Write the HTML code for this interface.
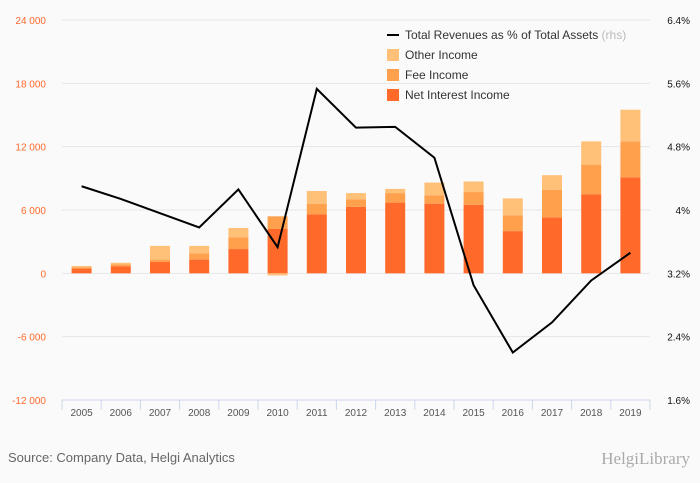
<!DOCTYPE html>
<html><head><meta charset="utf-8"><style>
body{margin:0;background:#fafafa;}
svg{display:block;font-family:"Liberation Sans",sans-serif;}
</style></head><body>
<svg id="c" width="700" height="483"></svg>
<script>
const years=["2005","2006","2007","2008","2009","2010","2011","2012","2013","2014","2015","2016","2017","2018","2019"];
const netInterest=[450,650,1100,1300,2300,4200,5600,6300,6700,6600,6500,4000,5300,7500,9100];
const feeIncome=[100,200,200,600,1100,1200,1000,700,900,800,1200,1500,2600,2800,3400];
const otherIncome=[150,150,1300,700,900,-200,1200,600,400,1200,1000,1600,1400,2200,3000];
const ratio=[4.30,4.14,3.96,3.78,4.26,3.53,5.53,5.04,5.05,4.66,3.05,2.20,2.58,3.11,3.46];
const leftTicks=[24000,18000,12000,6000,0,-6000,-12000];
const rightTicks=[6.4,5.6,4.8,4.0,3.2,2.4,1.6];
const NS="http://www.w3.org/2000/svg",svg=document.getElementById('c');
const X0=62,X1=650,YT=20,YB=400,bw=(X1-X0)/years.length;
const yL=v=>YT+(24000-v)/36000*(YB-YT);
const yR=v=>YT+(6.4-v)/4.8*(YB-YT);
const xC=i=>X0+bw*(i+0.5);
function el(t,a,txt){const e=document.createElementNS(NS,t);for(const k in a)e.setAttribute(k,a[k]);if(txt!=null)e.textContent=txt;svg.appendChild(e);return e;}
const fmt=v=>{const s=Math.abs(v).toString().replace(/\B(?=(\d{3})+(?!\d))/g,' ');return (v<0?'-':'')+s;};
leftTicks.forEach((v,i)=>{
  let g=el('line',{x1:X0,x2:X1,y1:yL(v),y2:yL(v),stroke:'#e6e6e6'});
  
  
  let t=el('text',{x:46,y:yL(v)+4,'text-anchor':'end','font-size':10,fill:'#ff6a2b'},fmt(v));
  
  
});
rightTicks.forEach(v=>{
  let t=el('text',{x:690,y:yR(v)+4,'text-anchor':'end','font-size':10,fill:'#111'},(Math.round(v*10)/10)+'%');
  
  
});
let ax=el('line',{x1:X0,x2:X1,y1:YB,y2:YB,stroke:'#ccd6eb'});


years.forEach((y,i)=>{
  let tk=el('line',{x1:X0+bw*i,x2:X0+bw*i,y1:YB,y2:YB+10,stroke:'#ccd6eb'});
  
  
  let t=el('text',{x:xC(i),y:YB+16,'text-anchor':'middle','font-size':10,fill:'#555'},y);
  
  
});
let tk=el('line',{x1:X1,x2:X1,y1:YB,y2:YB+10,stroke:'#ccd6eb'});


const cols=['#ff6a2b','#ffa04d','#ffc078'];
years.forEach((y,i)=>{
  let pos=0,neg=0;
  [netInterest[i],feeIncome[i],otherIncome[i]].forEach((v,k)=>{
    let a,b;
    if(v>=0){a=pos;b=pos+v;pos=b;}else{a=neg;b=neg+v;neg=b;}
    const y1=yL(Math.max(a,b)),y2=yL(Math.min(a,b));
    let r=el('rect',{x:xC(i)-10,y:y1,width:20,height:Math.max(y2-y1,0.5),fill:cols[k]});
    
    
  });
});
let p=el('polyline',{points:ratio.map((v,i)=>xC(i)+','+yR(v)).join(' '),fill:'none',stroke:'#000','stroke-width':2});


const leg=[['line','#000','Total Revenues as % of Total Assets'],['sq',cols[2],'Other Income'],['sq',cols[1],'Fee Income'],['sq',cols[0],'Net Interest Income']];
leg.forEach((l,i)=>{
  const y=35+i*20;
  let s;
  if(l[0]=='line') s=el('rect',{x:387,y:y-1,width:12,height:2,fill:'#000'});
  else s=el('rect',{x:387,y:y-6,width:12,height:12,fill:l[1]});
  
  
  let t=el('text',{x:405,y:y+4,'font-size':12,fill:'#333'},l[2]);
  
  
  if(i==0){let r=el('tspan',{fill:'#bbb'},' (rhs)');t.appendChild(r);}
});
let src=el('text',{x:8,y:462,'font-size':13,fill:'#666'},'Source: Company Data, Helgi Analytics');


let lg=el('text',{x:690,y:464,'text-anchor':'end','font-size':17,fill:'#aaa','font-family':'Liberation Serif, serif'},'HelgiLibrary');


</script>
</body></html>
